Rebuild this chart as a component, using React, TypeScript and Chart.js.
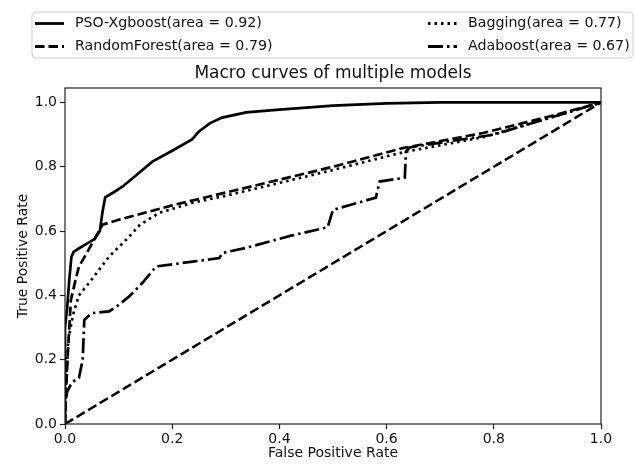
import React, { useEffect, useRef } from "react";
import { Chart, registerables } from "chart.js";

Chart.register(...registerables);

const TICKS = [0, 0.2, 0.4, 0.6, 0.8, 1.0];

const psoFpr = [0, 0, 0.004, 0.008, 0.012, 0.016, 0.025, 0.04, 0.055, 0.065, 0.07, 0.075, 0.09, 0.107, 0.13, 0.163, 0.2, 0.237, 0.25, 0.27, 0.293, 0.338, 0.4, 0.5, 0.6, 0.7, 1.0];
const psoTpr = [0, 0.3, 0.36, 0.45, 0.52, 0.535, 0.545, 0.56, 0.575, 0.6, 0.66, 0.705, 0.72, 0.738, 0.77, 0.816, 0.85, 0.885, 0.91, 0.935, 0.953, 0.969, 0.978, 0.99, 0.997, 1.0, 1.0];

const rfFpr = [0, 0.002, 0.005, 0.011, 0.02, 0.026, 0.04, 0.05, 0.06, 0.07, 0.1, 0.2, 0.363, 0.5, 0.63, 0.78, 0.9, 1.0];
const rfTpr = [0, 0.1, 0.21, 0.386, 0.45, 0.49, 0.53, 0.56, 0.59, 0.62, 0.635, 0.68, 0.745, 0.8, 0.858, 0.905, 0.955, 1.0];

const bagFpr = [0, 0.002, 0.006, 0.015, 0.026, 0.05, 0.082, 0.114, 0.14, 0.176, 0.238, 0.3, 0.363, 0.5, 0.63, 0.78, 0.9, 1.0];
const bagTpr = [0, 0.12, 0.26, 0.34, 0.4, 0.45, 0.52, 0.573, 0.62, 0.657, 0.688, 0.71, 0.735, 0.79, 0.845, 0.892, 0.95, 1.0];

const adaFpr = [0, 0, 0.004, 0.013, 0.026, 0.033, 0.036, 0.05, 0.082, 0.1, 0.12, 0.145, 0.17, 0.238, 0.288, 0.294, 0.338, 0.42, 0.49, 0.5, 0.58, 0.587, 0.634, 0.636, 0.643, 0.7, 0.8, 0.9, 1.0];
const adaTpr = [0, 0.06, 0.1, 0.13, 0.143, 0.2, 0.324, 0.345, 0.35, 0.37, 0.397, 0.44, 0.49, 0.505, 0.516, 0.532, 0.548, 0.585, 0.612, 0.666, 0.704, 0.754, 0.766, 0.847, 0.86, 0.875, 0.9, 0.95, 1.0];

const diagFpr = [0, 1];
const diagTpr = [0, 1];

const LABELS = ["PSO-Xgboost(area = 0.92)", "RandomForest(area = 0.79)", "Bagging(area = 0.77)", "Adaboost(area = 0.67)"];
const DASHES: number[][] = [[], [9.5, 4], [2.5, 4], [15, 4, 2.5, 4]];

const FONT = "'DejaVu Sans', sans-serif";

function pts(xs: number[], ys: number[]) {
  return xs.map((x, i) => ({ x, y: ys[i] }));
}

const decorPlugin = {
  id: "decor",
  afterDraw(chart: any) {
    const ctx = chart.ctx as CanvasRenderingContext2D;
    const a = chart.chartArea;
    ctx.save();
    ctx.strokeStyle = "#222";
    ctx.lineWidth = 1.2;
    ctx.setLineDash([]);
    ctx.strokeRect(a.left, a.top, a.right - a.left, a.bottom - a.top);
    ctx.fillStyle = "#111";
    ctx.font = `17px ${FONT}`;
    ctx.textAlign = "center";
    ctx.textBaseline = "middle";
    ctx.fillText("Macro curves of multiple models", (a.left + a.right) / 2, 74);
    const bx = 32, by = 12, bw = 601, bh = 46, r = 4;
    ctx.beginPath();
    ctx.moveTo(bx + r, by);
    ctx.lineTo(bx + bw - r, by);
    ctx.quadraticCurveTo(bx + bw, by, bx + bw, by + r);
    ctx.lineTo(bx + bw, by + bh - r);
    ctx.quadraticCurveTo(bx + bw, by + bh, bx + bw - r, by + bh);
    ctx.lineTo(bx + r, by + bh);
    ctx.quadraticCurveTo(bx, by + bh, bx, by + bh - r);
    ctx.lineTo(bx, by + r);
    ctx.quadraticCurveTo(bx, by, bx + r, by);
    ctx.closePath();
    ctx.fillStyle = "rgba(255,255,255,0.9)";
    ctx.fill();
    ctx.strokeStyle = "#d0d0d0";
    ctx.lineWidth = 1;
    ctx.stroke();
    const items = [
      { x: 35, y: 23.5, i: 0 },
      { x: 35, y: 46.5, i: 1 },
      { x: 428, y: 23.5, i: 2 },
      { x: 428, y: 46.5, i: 3 },
    ];
    ctx.font = `14.2px ${FONT}`;
    ctx.textAlign = "left";
    ctx.textBaseline = "middle";
    for (const it of items) {
      ctx.beginPath();
      ctx.strokeStyle = "#000";
      ctx.lineWidth = 2.8;
      ctx.setLineDash(DASHES[it.i]);
      ctx.moveTo(it.x, it.y);
      ctx.lineTo(it.x + 29, it.y);
      ctx.stroke();
      ctx.setLineDash([]);
      ctx.fillStyle = "#111";
      ctx.fillText(LABELS[it.i], it.x + 40, it.y);
    }
    ctx.restore();
  },
};

export default function App() {
  const ref = useRef<HTMLCanvasElement | null>(null);
  useEffect(() => {
    document.body.style.margin = "0";
    const canvas = ref.current!;
    const mk = (xs: number[], ys: number[], dash: number[], w: number) => ({
      data: pts(xs, ys),
      borderColor: "#000",
      borderWidth: w,
      borderDash: dash,
      pointRadius: 0,
      tension: 0,
      fill: false,
      showLine: true,
      borderCapStyle: "butt" as const,
    });
    const chart = new Chart(canvas, {
      type: "line",
      data: {
        datasets: [
          mk(psoFpr, psoTpr, DASHES[0], 2.7),
          mk(rfFpr, rfTpr, DASHES[1], 2.7),
          mk(bagFpr, bagTpr, DASHES[2], 2.7),
          mk(adaFpr, adaTpr, DASHES[3], 2.7),
          mk(diagFpr, diagTpr, [9.5, 4], 2.5),
        ],
      },
      options: {
        responsive: false,
        animation: false,
        events: [],
        layout: { padding: { top: 88, right: 34, left: 0, bottom: 0 } },
        plugins: { legend: { display: false }, title: { display: false }, tooltip: { enabled: false } },
        scales: {
          x: {
            type: "linear",
            min: 0,
            max: 1,
            afterBuildTicks: (s: any) => { s.ticks = TICKS.map((v) => ({ value: v })); },
            afterFit: (s: any) => { s.height = 41; },
            border: { display: false },
            grid: { drawOnChartArea: false, drawTicks: true, tickLength: 5, color: "#222", tickWidth: 1.2 },
            ticks: { color: "#111", padding: 2, maxRotation: 0, font: { family: FONT, size: 14 }, callback: (v: any) => Number(v).toFixed(1) },
            title: { display: true, text: "False Positive Rate", color: "#111", font: { family: FONT, size: 14 }, padding: { top: 0, bottom: 3 } },
          },
          y: {
            type: "linear",
            min: 0,
            max: 1.045,
            afterBuildTicks: (s: any) => { s.ticks = TICKS.map((v) => ({ value: v })); },
            afterFit: (s: any) => { s.width = 65; },
            border: { display: false },
            grid: { drawOnChartArea: false, drawTicks: true, tickLength: 5, color: "#222", tickWidth: 1.2 },
            ticks: { color: "#111", padding: 3, font: { family: FONT, size: 14 }, callback: (v: any) => Number(v).toFixed(1) },
            title: { display: true, text: "True Positive Rate", color: "#111", font: { family: FONT, size: 14 }, padding: { top: 15, bottom: 0 } },
          },
        },
      },
      plugins: [decorPlugin],
    } as any);
    return () => chart.destroy();
  }, []);
  return (
    <div style={{ width: 635, height: 465, background: "#fff" }}>
      <canvas ref={ref} width={635} height={465} style={{ display: "block" }} />
    </div>
  );
}
